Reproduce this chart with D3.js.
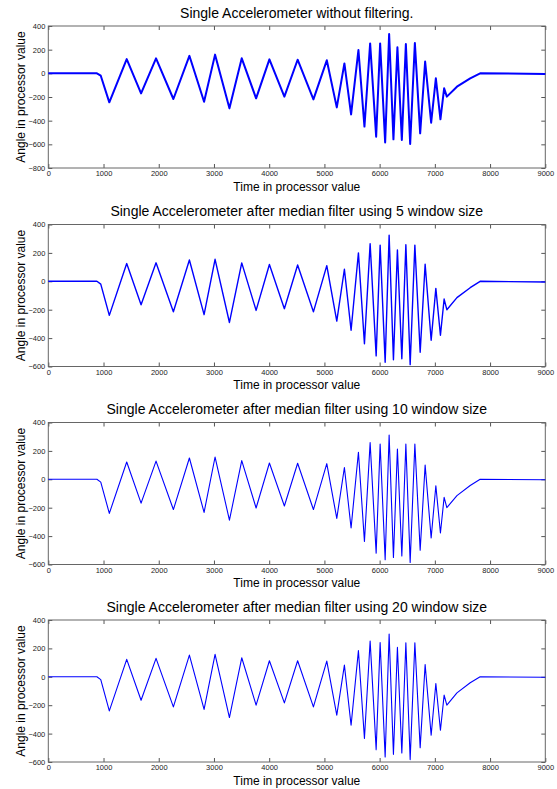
<!DOCTYPE html>
<html>
<head>
<meta charset="utf-8">
<script src="https://cdn.jsdelivr.net/npm/d3@7"></script>
<style>
  body { margin: 0; background: #fff; }
  svg { display: block; font-family: "Liberation Sans", Arial, sans-serif; }
  .tick text { font-size: 7.5px; fill: #222; }
  .tick line { stroke: #555; }
</style>
</head>
<body>
<svg id="chart" width="557" height="789"></svg>
<script>
// time stamps of the turning points (shared by all four traces)
const times = [0, 880, 950, 1105, 1420, 1680, 1951, 2265, 2555, 2821, 3020, 3280, 3503, 3763,
  4004, 4275, 4515, 4801, 5043, 5224, 5362, 5483, 5616, 5725, 5828, 5937, 6009, 6100, 6172,
  6250, 6322, 6402, 6475, 6553, 6638, 6734, 6824, 6933, 7018, 7101, 7168, 7217, 7400, 7640,
  7820, 9000]

// angle values
const rawValues = [0, 0, -20, -245, 120, -170, 127, -217, 148, -240, 158, -296, 127, -211,
  118, -197, 115, -220, 110, -288, 84, -347, 197, -450, 253, -535, 253, -584, 332,
  -558, 220, -564, 248, -597, 257, -507, 99, -417, -42, -389, -127, -197, -113, -42,
  0, -5]
const median5 = [0, 0, -20, -240, 125, -165, 130, -215, 150, -235, 155, -290, 130, -205,
  118, -193, 115, -215, 110, -280, 85, -345, 200, -440, 265, -525, 255, -570, 325,
  -553, 220, -545, 258, -587, 255, -500, 120, -415, -50, -380, -125, -200, -115, -45,
  0, -5]
const median10 = [0, 0, -20, -240, 122, -168, 128, -213, 150, -233, 157, -288, 132, -202,
  115, -188, 113, -213, 110, -275, 83, -343, 190, -438, 258, -520, 248, -567, 312,
  -550, 213, -540, 248, -585, 248, -500, 100, -413, -45, -378, -127, -200, -115, -44,
  0, -3]
const median20 = [0, 0, -20, -240, 123, -165, 130, -212, 153, -230, 158, -287, 134, -200,
  113, -184, 113, -212, 111, -270, 82, -341, 184, -435, 252, -513, 242, -565, 301,
  -546, 207, -536, 240, -583, 240, -499, 87, -412, -47, -376, -129, -200, -113, -42,
  0, -3]

const titles = [
  "Single Accelerometer without filtering.",
  "Single Accelerometer after median filter using 5 window size",
  "Single Accelerometer after median filter using 10 window size",
  "Single Accelerometer after median filter using 20 window size"
]
const yDomains = [[-800, 400], [-600, 400], [-600, 400], [-600, 400]]
const series = [rawValues, median5, median10, median20]

let svg = d3.select("#chart")
let margin = {left: 48.3, right: 545.3}
let tops = [26, 224.5, 422.5, 620]
let h = 142
let widths = [2, 1.4, 1.1, 1.1]

function draw_panel(i) {
  let top = tops[i], bottom = top + h
  let x = d3.scaleLinear().domain([0, 9000]).range([margin.left, margin.right])
  let y = d3.scaleLinear().domain(yDomains[i]).range([bottom, top])
  let g = svg.append("g")
  let xt = d3.range(0, 9001, 1000)
  let yt = d3.range(yDomains[i][0], yDomains[i][1] + 1, 200)
  let fmt = d3.format("d")

  // bottom and left axes with labels, ticks pointing inward
  g.append("g").attr("transform", `translate(0,${bottom})`)
    .call(d3.axisBottom(x).tickValues(xt).tickFormat(fmt).tickSizeInner(-4).tickSizeOuter(0).tickPadding(3))
  g.append("g").attr("transform", `translate(${margin.left},0)`)
    .call(d3.axisLeft(y).tickValues(yt).tickFormat(fmt).tickSizeInner(-4).tickSizeOuter(0).tickPadding(3))
  // top and right ticks without labels
  g.append("g").attr("transform", `translate(0,${top})`)
    .call(d3.axisTop(x).tickValues(xt).tickSizeInner(-4).tickSizeOuter(0).tickFormat(""))
  g.append("g").attr("transform", `translate(${margin.right},0)`)
    .call(d3.axisRight(y).tickValues(yt).tickSizeInner(-4).tickSizeOuter(0).tickFormat(""))
  g.selectAll(".domain").remove()

  g.append("rect")
    .attr("x", margin.left).attr("y", top)
    .attr("width", margin.right - margin.left).attr("height", h)
    .attr("fill", "none").attr("stroke", "#666").attr("stroke-width", 1)

  let line = d3.line()
    .x((d, k) => x(times[k]))
    .y(d => y(d))
  g.append("path")
    .datum(series[i])
    .attr("d", line)
    .attr("fill", "none")
    .attr("stroke", "#0000ff")
    .attr("stroke-width", widths[i])
    .attr("stroke-linejoin", "round")

  let cx = (margin.left + margin.right) / 2
  g.append("text")
    .attr("x", cx).attr("y", top - 8.5)
    .attr("text-anchor", "middle")
    .style("font-size", "14px")
    .text(titles[i])
  g.append("text")
    .attr("x", cx).attr("y", bottom + 22.5)
    .attr("text-anchor", "middle")
    .style("font-size", "12px")
    .text("Time in processor value")
  g.append("text")
    .attr("transform", `translate(25,${top + h / 2}) rotate(-90)`)
    .attr("text-anchor", "middle")
    .style("font-size", "12px")
    .text("Angle in processor value")
}

for (let i = 0; i < 4; i++) draw_panel(i)
</script>
</body>
</html>
